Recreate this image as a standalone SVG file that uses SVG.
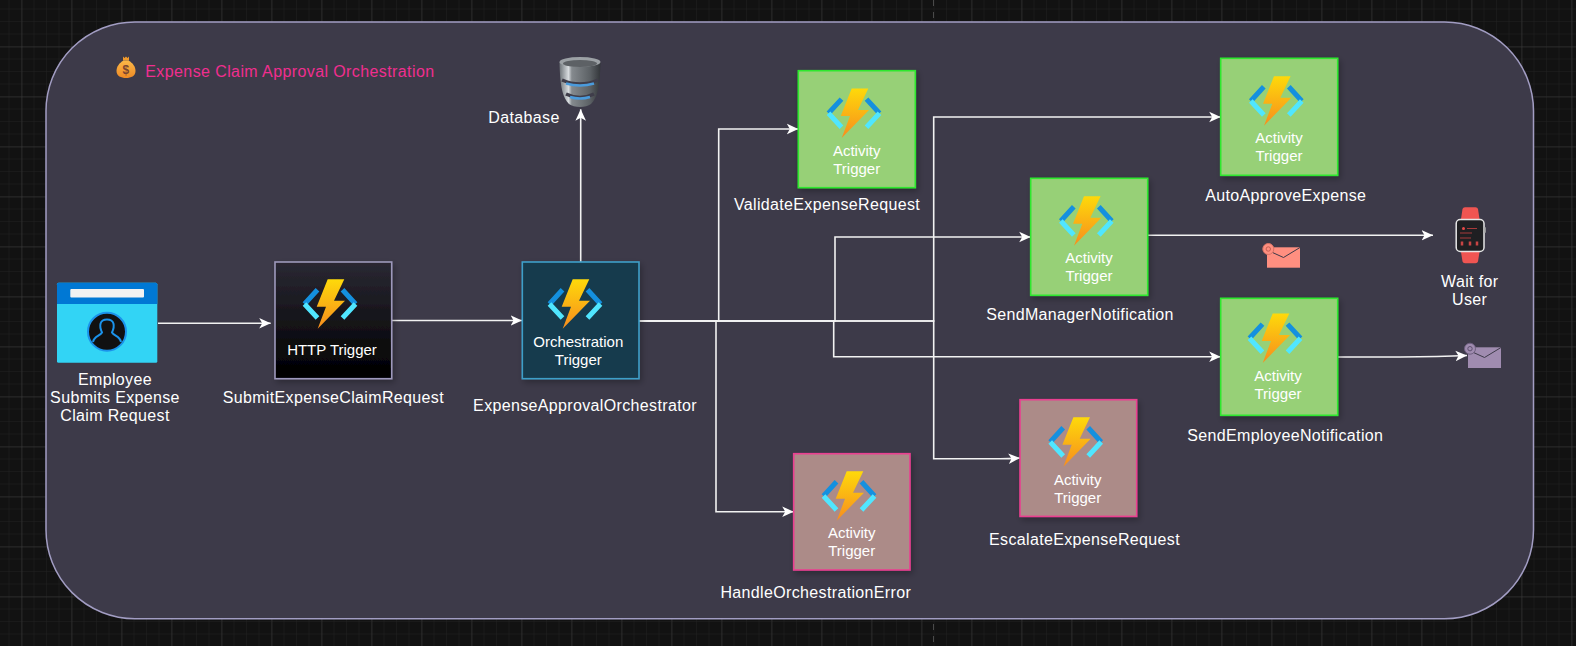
<svg xmlns="http://www.w3.org/2000/svg" xmlns:xlink="http://www.w3.org/1999/xlink" width="1576" height="646" viewBox="0 0 1576 646">
<style>
text{font-family:"Liberation Sans",Arial,sans-serif;font-size:16px;letter-spacing:.35px;fill:#fff;text-anchor:middle}
.inner{font-size:15px;letter-spacing:0}
.box{stroke-width:1.6}
.green{fill:#97d077;stroke:#2fe82f}
.rose{fill:#ac8b88;stroke:#ea3f90}
.wire{fill:none;stroke:#f2f2f2;stroke-width:1.6}
.arrow{marker-end:url(#arrow)}
</style>
<defs>
<pattern id="minor" width="12.5" height="12.5" patternUnits="userSpaceOnUse" x="8.5" y="8.5"><path d="M12.5 0H0V12.5" fill="none" stroke="#212121" stroke-width="1"/></pattern>
<pattern id="major" width="50" height="50" patternUnits="userSpaceOnUse" x="21.5" y="46.5"><path d="M50 0H0V50" fill="none" stroke="#3c3c3c" stroke-width="1"/></pattern>
<linearGradient id="bolt" x1="0" y1="0" x2="0" y2="1"><stop offset="0" stop-color="#fed90a"/><stop offset="1" stop-color="#f78d1e"/></linearGradient>
<linearGradient id="black" x1="0" y1="0" x2="0" y2="1"><stop offset="0" stop-color="#2a2833"/><stop offset="1" stop-color="#000"/></linearGradient>
<linearGradient id="bag" x1="0" y1="0" x2="0" y2="1"><stop offset="0" stop-color="#fbb848"/><stop offset="1" stop-color="#ee8a25"/></linearGradient>
<linearGradient id="dbg" x1="0" y1="0" x2="1" y2="0"><stop offset="0" stop-color="#6d7378"/><stop offset=".22" stop-color="#d8dcdf"/><stop offset=".3" stop-color="#858a8e"/><stop offset=".75" stop-color="#5b6064"/><stop offset="1" stop-color="#33363a"/></linearGradient>
<filter id="shadow" x="-15%" y="-15%" width="135%" height="135%"><feDropShadow dx="2" dy="3" stdDeviation="3" flood-color="#000" flood-opacity=".28"/></filter>
<marker id="arrow" markerUnits="userSpaceOnUse" markerWidth="13" markerHeight="12" refX="11.5" refY="6" orient="auto"><path d="M11.5 6L0 .7 3 6 0 11.3Z" fill="#fff"/></marker>
<symbol id="fn" width="56" height="50" viewBox="0 0 56 50" overflow="visible">
<path d="M15.5 10.8L2.5 25M53.5 25L40.500 10.800" fill="none" stroke="#1490df" stroke-width="5"/>
<path d="M2.500 25L15.500 39M40.500 39L53.500 25" fill="none" stroke="#50e6ff" stroke-width="5"/>
<path d="M25.700.3H42.300L32 21.700H43L15.700 49.700 24 27.700H14.700Z" fill="url(#bolt)"/>
</symbol>
</defs>
<rect width="1576" height="646" fill="#121212"/>
<rect width="1576" height="646" fill="url(#minor)"/>
<rect width="1576" height="646" fill="url(#major)"/>
<path d="M933.500 0V646" stroke="#4a4a4a" stroke-dasharray="6 6"/>
<rect id="panel" x="46" y="22" width="1487.500" height="596.700" rx="89" ry="89" fill="#3d3a49" stroke="#a29dc3" stroke-width="1.500"/>

<g id="connectors">
<path class="wire arrow" d="M158 323.300H270.700"/>
<path class="wire arrow" d="M392 320.500H522"/>
<path class="wire arrow" d="M580.700 262V109.300"/>
<path class="wire arrow" d="M638.700 321H718.700V129H798.300"/>
<path class="wire arrow" d="M638.700 321H716V511.700H793.700"/>
<path class="wire arrow" d="M638.700 321H933.700V117H1220.700"/>
<path class="wire arrow" d="M638.700 321H835V237H1030.700"/>
<path class="wire arrow" d="M638.700 321H833.700V356.700H1220.700"/>
<path class="wire arrow" d="M638.700 321H933.700V458.700H1000Q1010 458.700 1020 458"/>
<path class="wire arrow" d="M1148 235.300H1433"/>
<path class="wire arrow" d="M1338 357H1400Q1440 356.500 1467 355.500"/>
</g>

<g id="title">
<g id="money-bag">
<path d="M123 56.500L124.500 58 126 56.500 127.500 58 129 56.500V60.500H123Z" fill="#f19a2c"/>
<path d="M123.500 60.500H128.500C133 63 135.500 67 135.500 71 135.500 76 131 78 126 78S116.500 76 116.500 71C116.500 67 119 63 123.500 60.500Z" fill="url(#bag)"/>
<text x="126" y="74" style="font-size:12px;fill:#7a4530;font-weight:bold">$</text>
</g>
<text x="145.300" y="76.700" style="text-anchor:start;fill:#f02e8f;letter-spacing:.4px">Expense Claim Approval Orchestration</text>
</g>

<g id="employee">
<rect x="57" y="282.700" width="100.300" height="80" rx="1.500" fill="#32d4f5"/>
<path d="M57 304V284.200Q57 282.700 58.500 282.700H155.800Q157.300 282.700 157.300 284.200V304Z" fill="#0078d4"/>
<rect x="70.300" y="289" width="73.700" height="8.500" rx="1" fill="#f2f2f2"/>
<circle cx="107" cy="331.700" r="19" fill="#111" stroke="#1b93eb" stroke-width="2"/>
<path d="M93 342C94 336 100 336 102 332.500 99 326 99.500 319.500 107 319.500S115 326 112 332.500C114 336 120 336 121 342" fill="none" stroke="#1b93eb" stroke-width="2"/>
<text x="115" y="385">Employee</text><text x="115" y="403">Submits Expense</text><text x="115" y="421">Claim Request</text>
</g>

<g id="submit-expense-claim-request">
<rect x="275" y="262" width="116.700" height="116.700" fill="url(#black)" stroke="#9d98bb" stroke-width="1.600" filter="url(#shadow)"/>
<use xlink:href="#fn" href="#fn" x="302" y="279"/>
<text class="inner" x="332" y="355">HTTP Trigger</text>
<text x="333.300" y="403">SubmitExpenseClaimRequest</text>
</g>

<g id="expense-approval-orchestrator">
<rect x="522.300" y="262" width="116.700" height="116.700" fill="#173b4d" stroke="#3e9fc9" stroke-width="1.600" filter="url(#shadow)"/>
<use xlink:href="#fn" href="#fn" x="547" y="279"/>
<text class="inner" x="578.300" y="347">Orchestration</text><text class="inner" x="578.300" y="365">Trigger</text>
<text x="585" y="411">ExpenseApprovalOrchestrator</text>
</g>

<g id="database">
<path d="M559.500 62C560 88 563 98 569 104 574 108 586 108 591 104 597 98 600 88 600.500 62Z" fill="url(#dbg)"/>
<ellipse cx="580" cy="62" rx="20.500" ry="5" fill="#9ca1a5"/>
<ellipse cx="580" cy="63.500" rx="17" ry="3.500" fill="#5d6165"/>
<path d="M562 80Q580 88 598 80M566 94Q580 101 594 94" fill="none" stroke="#3f3d4a" stroke-width="3.500"/>
<path d="M566 83.500Q580 87.500 594 83.500M570 97Q580 100 590 97" fill="none" stroke="#4a9bdc" stroke-width="2.500"/>
<text x="524" y="123">Database</text>
</g>

<g id="validate-expense-request">
<rect class="box green" x="798.300" y="70.700" width="117" height="117" filter="url(#shadow)"/>
<use xlink:href="#fn" href="#fn" x="826" y="88.300"/>
<text class="inner" x="856.700" y="156">Activity</text><text class="inner" x="856.700" y="174">Trigger</text>
<text x="827" y="210">ValidateExpenseRequest</text>
</g>

<g id="auto-approve-expense">
<rect class="box green" x="1220.700" y="58.300" width="117" height="117" filter="url(#shadow)"/>
<use xlink:href="#fn" href="#fn" x="1248.300" y="76"/>
<text class="inner" x="1279" y="143">Activity</text><text class="inner" x="1279" y="161">Trigger</text>
<text x="1285.700" y="201">AutoApproveExpense</text>
</g>

<g id="send-manager-notification">
<rect class="box green" x="1030.700" y="178.300" width="117" height="117" filter="url(#shadow)"/>
<use xlink:href="#fn" href="#fn" x="1058.300" y="196"/>
<text class="inner" x="1089" y="263">Activity</text><text class="inner" x="1089" y="281">Trigger</text>
<text x="1080" y="320">SendManagerNotification</text>
</g>

<g id="send-employee-notification">
<rect class="box green" x="1220.700" y="298.300" width="117" height="117" filter="url(#shadow)"/>
<use xlink:href="#fn" href="#fn" x="1247" y="313.300"/>
<text class="inner" x="1278" y="381">Activity</text><text class="inner" x="1278" y="399">Trigger</text>
<text x="1285.300" y="441">SendEmployeeNotification</text>
</g>

<g id="escalate-expense-request">
<rect class="box rose" x="1020" y="399.700" width="116.700" height="116.700" filter="url(#shadow)"/>
<use xlink:href="#fn" href="#fn" x="1047.700" y="417"/>
<text class="inner" x="1077.700" y="485">Activity</text><text class="inner" x="1077.700" y="503">Trigger</text>
<text x="1084.500" y="545">EscalateExpenseRequest</text>
</g>

<g id="handle-orchestration-error">
<rect class="box rose" x="793.700" y="453.700" width="116.300" height="116.300" filter="url(#shadow)"/>
<use xlink:href="#fn" href="#fn" x="821" y="471"/>
<text class="inner" x="851.700" y="538">Activity</text><text class="inner" x="851.700" y="556">Trigger</text>
<text x="815.800" y="598">HandleOrchestrationError</text>
</g>

<g id="wait-for-user">
<path d="M1461 219L1462.500 209Q1463 207.300 1465 207.300H1475.500Q1477.500 207.300 1478 209L1479.500 219ZM1461 252L1462.500 261.500Q1463 263.300 1465 263.300H1475.500Q1477.500 263.300 1478 261.500L1479.500 252Z" fill="#f05552"/>
<rect x="1456.200" y="219.500" width="27.800" height="32" rx="4" fill="#1f1f22" stroke="#e6e6e6" stroke-width="1.500"/>
<rect x="1484" y="227" width="1.800" height="6" rx=".9" fill="#aaa"/>
<circle cx="1463.500" cy="228.500" r="1.500" fill="#e84a48"/>
<path d="M1467 228.500H1477M1460 233H1472M1460 238H1471" stroke="#a83a3a" stroke-width="1"/>
<path d="M1462 241.500V245.500M1470 241.500V245.500M1477 241.500V245.500" stroke="#c84444" stroke-width="2.500"/>
<text x="1469.700" y="287">Wait for</text><text x="1469.700" y="305">User</text>
</g>

<g id="mail-manager">
<rect x="1267" y="247.300" width="33" height="20.400" fill="#ff8f80"/>
<path d="M1267 250L1283.500 257.500 1300 247.500" fill="none" stroke="#3d3a49" stroke-width="1"/>
<circle cx="1268.300" cy="249" r="5.500" fill="#ff8f80" stroke="#d97466" stroke-width="1"/>
<circle cx="1268.300" cy="249" r="2.200" fill="none" stroke="#c45f52" stroke-width="1"/>
</g>

<g id="mail-employee">
<rect x="1468" y="347.300" width="33" height="20.700" fill="#a08cb0"/>
<path d="M1468 350L1484.500 357.500 1501 347.500" fill="none" stroke="#3d3a49" stroke-width="1"/>
<circle cx="1470" cy="348.700" r="5.500" fill="#a08cb0" stroke="#6f6080" stroke-width="1"/>
<circle cx="1470" cy="348.700" r="2.200" fill="none" stroke="#5e5070" stroke-width="1"/>
</g>
</svg>
